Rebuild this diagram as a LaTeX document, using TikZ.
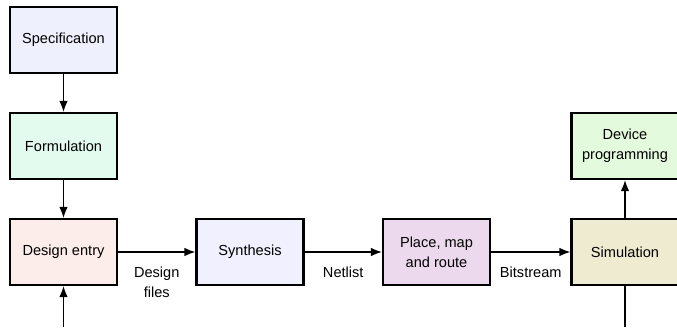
\documentclass[tikz,border=0pt]{standalone}
\usepackage{fontspec}
\setmainfont{Liberation Sans}
\usepackage{tikz}
\usetikzlibrary{positioning,arrows.meta}
\definecolor{specfill}{HTML}{EEF0FE}
\definecolor{formfill}{HTML}{E2FBEE}
\definecolor{entryfill}{HTML}{FCEDEA}
\definecolor{synthfill}{HTML}{F0F0FE}
\definecolor{placefill}{HTML}{EDD9EE}
\definecolor{simfill}{HTML}{EEEBD0}
\definecolor{devfill}{HTML}{E3FBDC}
\tikzset{
  flowarrow/.style={-{Latex[length=2.2mm,width=1.7mm]}, line width=0.8pt},
  flowline/.style={line width=0.8pt},
  stagebox/.style={draw, line width=1.2pt, minimum width=2.14cm, minimum height=1.32cm, align=center, inner sep=2pt},
  flowlabel/.style={align=center, inner sep=1pt}
}
\begin{document}
\begin{tikzpicture}[>=Latex, every node/.style={font=\fontsize{8.3}{11.5}\selectfont}]
  \useasboundingbox (0,0) rectangle (13.54,6.54);
  \node[stagebox, fill=specfill] (spec) at (1.27,5.74) {Specification};
  \node[stagebox, fill=formfill] (form) at (1.27,3.62) {Formulation};
  \node[stagebox, fill=entryfill] (entry) at (1.27,1.50) {Design entry};
  \node[stagebox, fill=synthfill] (synth) at (5.00,1.50) {Synthesis};
  \node[stagebox, fill=placefill] (place) at (8.73,1.50) {Place, map\\and route};
  \node[stagebox, fill=simfill] (sim) at (12.50,1.50) {Simulation};
  \node[stagebox, fill=devfill] (dev) at (12.50,3.62) {Device\\programming};
  \coordinate (entryin) at (1.27,0);
  \coordinate (simout) at (12.50,0);
  \draw[flowarrow] (spec) -- (form);
  \draw[flowarrow] (form) -- (entry);
  \draw[flowarrow] (entryin) -- (entry);
  \draw[flowarrow] (entry) -- node[flowlabel, below=7pt] (files) {Design\\files} (synth);
  \draw[flowarrow] (synth) -- node[flowlabel, below=7pt] (netlist) {Netlist} (place);
  \draw[flowarrow] (place) -- node[flowlabel, below=7pt] (bits) {Bitstream} (sim);
  \draw[flowarrow] (sim) -- (dev);
  \draw[flowline] (sim) -- (simout);
\end{tikzpicture}
\end{document}
